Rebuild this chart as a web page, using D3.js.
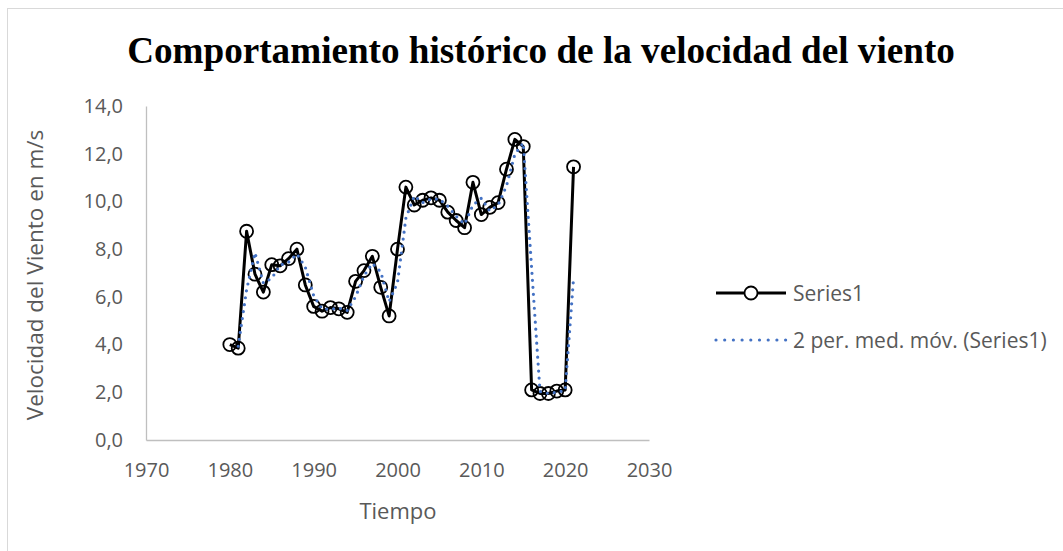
<!DOCTYPE html>
<html>
<head>
<meta charset="utf-8">
<script src="https://cdn.jsdelivr.net/npm/d3@7"></script>
<style>
  html, body { margin: 0; padding: 0; background: #fff; overflow: hidden; }
  svg { display: block; }
</style>
</head>
<body>
<svg id="chart" width="1063" height="551"></svg>
<script>
// ---- data ----
const years = [1980,1981,1982,1983,1984,1985,1986,1987,1988,1989,
               1990,1991,1992,1993,1994,1995,1996,1997,1998,1999,
               2000,2001,2002,2003,2004,2005,2006,2007,2008,2009,
               2010,2011,2012,2013,2014,2015,2016,2017,2018,2019,
               2020,2021];
const speeds = [4.0,3.85,8.75,6.95,6.2,7.35,7.3,7.6,8.0,6.5,
                5.6,5.4,5.55,5.5,5.35,6.65,7.1,7.7,6.4,5.2,
                8.0,10.6,9.85,10.05,10.15,10.05,9.55,9.2,8.9,10.8,
                9.45,9.75,9.95,11.35,12.6,12.3,2.1,1.95,1.95,2.05,
                2.1,11.45];
// 2-period moving average (trend line), years 1981..2021
const maYears = years.slice(1);
const maValues = [3.93,6.3,7.85,6.58,6.78,7.33,7.45,7.8,7.25,
                  6.05,5.5,5.48,5.53,5.43,6.0,6.88,7.4,7.05,5.8,
                  6.6,9.3,10.23,9.95,10.1,10.1,9.8,9.38,9.05,9.85,
                  10.13,9.6,9.85,10.65,11.98,12.45,7.2,2.03,1.95,2.0,
                  2.08,6.78];
const xTicks = [1970,1980,1990,2000,2010,2020,2030];
const yTicks = [0,2,4,6,8,10,12,14];
const titleText = "Comportamiento histórico de la velocidad del viento";
const xTitle = "Tiempo";
const yTitle = "Velocidad del Viento en m/s";
const legendLabels = ["Series1", "2 per. med. móv. (Series1)"];

// ---- layout ----
const svg = d3.select("#chart");
const plot = {left: 146, right: 649, top: 106, bottom: 440};
const x = d3.scaleLinear().domain([1970, 2030]).range([plot.left, plot.right]);
const y = d3.scaleLinear().domain([0, 14]).range([plot.bottom, plot.top]);

const tickFont = "'Open Sans', sans-serif";
const grey = "#595959";
const locale = d3.formatLocale({decimal: ",", thousands: ".", grouping: [3], currency: ["", "€"]});
const fmtY = locale.format(".1f");

// chart area border (extends beyond viewport on right/bottom)
svg.append("rect")
  .attr("x", 7.5).attr("y", 8.5)
  .attr("width", 1100).attr("height", 600)
  .attr("fill", "#fff").attr("stroke", "#d9d9d9").attr("stroke-width", 1);

// title
const title = svg.append("text")
  .attr("x", 541).attr("y", 63)
  .attr("text-anchor", "middle")
  .attr("font-family", "'Liberation Serif', 'Times New Roman', serif")
  .attr("font-weight", "bold")
  .attr("font-size", 36)
  .attr("fill", "#000")
  .text(titleText);
const tw = title.node().getComputedTextLength();
title.attr("font-size", 36 * 828 / tw);

// axes
const yAxis = d3.axisLeft(y).tickValues(yTicks).tickFormat(fmtY).tickSize(0).tickPadding(23);
const xAxis = d3.axisBottom(x).tickValues(xTicks).tickFormat(d3.format("d")).tickSize(0).tickPadding(23);

const gy = svg.append("g").attr("transform", `translate(${plot.left},0)`).call(yAxis);
const gx = svg.append("g").attr("transform", `translate(0,${plot.bottom})`).call(xAxis);
[gx, gy].forEach(g => {
  g.select(".domain").attr("stroke", "#bfbfbf").attr("stroke-width", 1.3);
  g.selectAll("text").attr("font-family", tickFont).attr("font-size", 20).attr("fill", grey);
});

// axis titles
svg.append("text")
  .attr("x", (plot.left + plot.right) / 2 + 0.5).attr("y", 510)
  .attr("text-anchor", "middle").attr("dominant-baseline", "central")
  .attr("font-family", tickFont).attr("font-size", 22).attr("fill", grey)
  .text(xTitle);
svg.append("text")
  .attr("transform", `translate(34,${(plot.top + plot.bottom) / 2 + 2}) rotate(-90)`)
  .attr("text-anchor", "middle").attr("dominant-baseline", "central")
  .attr("font-family", tickFont).attr("font-size", 22.5).attr("fill", grey)
  .text(yTitle);

// series line
const pts = years.map((yr, i) => [yr, speeds[i]]);
const line = d3.line().x(d => x(d[0])).y(d => y(d[1]));
svg.append("path")
  .datum(pts)
  .attr("d", line)
  .attr("fill", "none").attr("stroke", "#000").attr("stroke-width", 3)
  .attr("stroke-linejoin", "round");

// markers
svg.append("g").selectAll("circle")
  .data(pts).join("circle")
  .attr("cx", d => x(d[0])).attr("cy", d => y(d[1]))
  .attr("r", 6.5)
  .attr("fill", "none").attr("stroke", "#000").attr("stroke-width", 1.8);

// moving average trendline
const maPts = maYears.map((yr, i) => [yr, maValues[i]]);
svg.append("path")
  .datum(maPts)
  .attr("d", line)
  .attr("fill", "none").attr("stroke", "#4472C4").attr("stroke-width", 3.2)
  .attr("stroke-dasharray", "0,7").attr("stroke-linecap", "round");

// legend
const lg = svg.append("g");
const lx0 = 716, lx1 = 786, ltx = 793;
const ly = [293, 340];
lg.append("line").attr("x1", lx0).attr("x2", lx1).attr("y1", ly[0]).attr("y2", ly[0])
  .attr("stroke", "#000").attr("stroke-width", 3);
lg.append("circle").attr("cx", (lx0 + lx1) / 2).attr("cy", ly[0]).attr("r", 6.5)
  .attr("fill", "#fff").attr("stroke", "#000").attr("stroke-width", 1.8);
lg.append("line").attr("x1", lx0).attr("x2", lx1).attr("y1", ly[1]).attr("y2", ly[1])
  .attr("stroke", "#4472C4").attr("stroke-width", 3.2)
  .attr("stroke-dasharray", "0,8.7").attr("stroke-linecap", "round");
legendLabels.forEach((t, i) => {
  lg.append("text").attr("x", ltx).attr("y", ly[i])
    .attr("dominant-baseline", "central")
    .attr("font-family", tickFont).attr("font-size", 21).attr("fill", grey)
    .text(t);
});
</script>
</body>
</html>
